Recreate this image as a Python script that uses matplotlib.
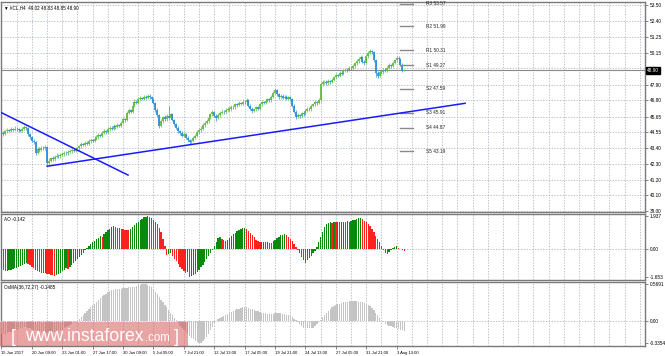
import numpy as np
import matplotlib
matplotlib.use('Agg')
import matplotlib.pyplot as plt
from matplotlib.patches import Rectangle

plt.rcParams['font.family'] = ['Liberation Sans', 'DejaVu Sans']

# #CL h4 bars (open of a bar = close of the bar before)
closes = [44.50, 44.45, 44.60, 44.70, 44.65, 44.75, 44.70, 44.80, 44.75, 44.70,
          44.65, 44.75, 44.90, 44.85, 44.40, 44.20, 43.95, 43.85, 43.05, 43.35,
          43.30, 43.45, 43.40, 43.50, 42.40, 42.55, 42.70, 42.65, 42.80, 42.90,
          42.85, 42.95, 43.00, 43.10, 43.05, 43.15, 43.20, 43.30, 43.25, 43.35,
          43.40, 43.55, 43.70, 43.65, 43.80, 43.75, 43.90, 44.00, 43.95, 44.10,
          44.20, 44.35, 44.30, 44.50, 44.60, 44.55, 44.75, 44.85, 44.80, 44.95,
          44.90, 45.05, 45.00, 45.20, 45.45, 45.40, 45.90, 46.10, 46.00, 46.40,
          46.70, 46.60, 46.85, 46.95, 46.90, 47.05, 46.95, 47.10, 47.00, 46.90,
          46.60, 46.10, 45.75, 45.00, 45.30, 45.60, 45.45, 45.70, 45.55, 45.80,
          45.40, 45.10, 44.85, 44.60, 44.50, 44.30, 44.40, 44.15, 44.00, 43.85,
          43.95, 44.15, 44.30, 44.55, 44.70, 44.80, 45.05, 45.20, 45.30, 45.55,
          45.80, 45.95, 45.70, 45.55, 45.75, 45.90, 46.00, 45.95, 46.10, 46.20,
          46.15, 46.35, 46.30, 46.50, 46.45, 46.60, 46.55, 46.70, 46.65, 46.80,
          46.40, 46.20, 46.05, 46.15, 46.30, 46.20, 46.50, 46.65, 46.60, 46.75,
          46.85, 46.80, 47.05, 47.30, 47.55, 47.20, 47.00, 47.10, 46.95, 47.05,
          46.90, 47.00, 46.85, 46.40, 46.00, 45.65, 45.75, 45.70, 45.90, 45.85,
          46.05, 46.20, 46.15, 46.40, 46.50, 46.65, 46.60, 46.80, 47.95, 48.05,
          48.10, 48.00, 48.15, 48.05, 48.25, 48.40, 48.55, 48.50, 48.70, 48.65,
          48.85, 48.95, 48.90, 49.10, 49.05, 49.20, 49.40, 49.55, 49.70, 49.85,
          49.50, 49.40, 49.90, 50.15, 50.25, 50.20, 49.60, 48.70, 48.50, 48.80,
          48.75, 48.95, 48.85, 49.10, 49.30, 49.20, 49.45, 49.60, 49.80, 49.70,
          49.30, 48.85, 48.90]
highs = [44.70, 44.62, 44.72, 44.85, 44.80, 44.88, 44.86, 44.95, 44.90, 44.85,
         44.80, 44.88, 45.05, 45.00, 44.92, 44.50, 44.30, 44.05, 43.95, 43.50,
         43.50, 43.58, 43.60, 43.65, 43.60, 42.70, 42.82, 42.85, 42.92, 43.05,
         43.00, 43.08, 43.15, 43.25, 43.22, 43.28, 43.35, 43.45, 43.40, 43.50,
         43.52, 43.68, 43.85, 43.82, 43.95, 43.90, 44.05, 44.15, 44.10, 44.25,
         44.35, 44.48, 44.45, 44.62, 44.75, 44.70, 44.90, 45.00, 44.95, 45.10,
         45.05, 45.18, 45.15, 45.35, 45.60, 45.55, 46.05, 46.25, 46.20, 46.55,
         46.85, 46.80, 47.00, 47.10, 47.05, 47.18, 47.15, 47.25, 47.20, 47.08,
         46.98, 46.70, 46.22, 45.85, 45.45, 45.72, 45.75, 45.85, 46.40, 45.92,
         45.90, 45.50, 45.22, 44.98, 44.72, 44.60, 44.55, 44.50, 44.25, 44.10,
         44.10, 44.28, 44.45, 44.68, 44.85, 44.95, 45.18, 45.35, 45.45, 45.70,
         45.92, 46.10, 46.02, 45.80, 45.88, 46.02, 46.15, 46.10, 46.25, 46.35,
         46.32, 46.48, 46.45, 46.62, 46.60, 46.72, 46.70, 46.85, 46.80, 46.95,
         46.90, 46.52, 46.30, 46.25, 46.42, 46.40, 46.62, 46.78, 46.75, 46.88,
         46.98, 46.95, 47.18, 47.45, 47.68, 47.62, 47.30, 47.22, 47.20, 47.15,
         47.15, 47.10, 47.08, 46.95, 46.50, 46.10, 45.88, 45.85, 46.00, 46.00,
         46.18, 46.32, 46.30, 46.52, 46.62, 46.78, 46.75, 46.92, 48.10, 48.20,
         48.22, 48.20, 48.28, 48.25, 48.38, 48.52, 48.68, 48.65, 48.82, 48.80,
         48.98, 49.08, 49.05, 49.22, 49.20, 49.32, 49.52, 49.68, 49.82, 49.98,
         49.92, 49.62, 50.02, 50.28, 50.38, 50.35, 50.28, 49.70, 48.85, 48.92,
         48.92, 49.08, 49.05, 49.22, 49.42, 49.38, 49.58, 49.72, 49.92, 49.88,
         49.78, 49.40, 49.02]
lows = [44.35, 44.30, 44.38, 44.52, 44.55, 44.58, 44.60, 44.62, 44.66, 44.58,
        44.55, 44.58, 44.70, 44.72, 44.30, 44.10, 43.85, 43.70, 42.95, 42.98,
        43.18, 43.20, 43.28, 43.32, 42.25, 42.30, 42.45, 42.52, 42.55, 42.70,
        42.72, 42.75, 42.85, 42.90, 42.95, 42.95, 43.05, 43.10, 43.15, 43.15,
        43.25, 43.30, 43.45, 43.55, 43.55, 43.62, 43.65, 43.80, 43.85, 43.85,
        44.00, 44.10, 44.20, 44.20, 44.40, 44.42, 44.45, 44.65, 44.68, 44.70,
        44.78, 44.82, 44.90, 44.92, 45.10, 45.28, 45.30, 45.80, 45.88, 45.90,
        46.30, 46.50, 46.50, 46.75, 46.80, 46.82, 46.85, 46.88, 46.90, 46.80,
        46.50, 46.00, 45.60, 44.85, 44.90, 45.20, 45.35, 45.35, 45.45, 45.45,
        45.30, 44.98, 44.75, 44.48, 44.38, 44.18, 44.22, 44.05, 43.88, 43.72,
        43.75, 43.85, 44.05, 44.20, 44.42, 44.58, 44.70, 44.92, 45.10, 45.20,
        45.45, 45.70, 45.60, 45.30, 45.45, 45.65, 45.80, 45.85, 45.85, 46.00,
        46.05, 46.05, 46.20, 46.20, 46.35, 46.38, 46.45, 46.48, 46.55, 46.55,
        46.30, 46.10, 45.92, 45.95, 46.05, 46.10, 46.12, 46.40, 46.50, 46.50,
        46.65, 46.70, 46.70, 46.95, 47.20, 47.10, 46.90, 46.90, 46.85, 46.85,
        46.80, 46.80, 46.75, 46.30, 45.88, 45.45, 45.55, 45.58, 45.62, 45.72,
        45.75, 45.95, 46.05, 46.05, 46.30, 46.40, 46.48, 46.50, 46.70, 47.80,
        47.92, 47.88, 47.90, 47.95, 47.98, 48.15, 48.30, 48.40, 48.42, 48.55,
        48.55, 48.75, 48.80, 48.82, 48.95, 48.95, 49.10, 49.30, 49.45, 49.60,
        49.40, 49.28, 49.32, 49.80, 50.05, 50.08, 49.50, 48.45, 48.35, 48.42,
        48.62, 48.65, 48.75, 48.78, 49.00, 49.10, 49.12, 49.35, 49.50, 49.58,
        49.20, 48.78, 48.83]
first_open = 44.55

# awesome oscillator
ao = [-1.20, -1.26, -1.32, -1.30, -1.26, -1.22, -1.18, -1.14, -1.10, -1.06,
      -1.00, -0.95, -0.88, -0.82, -0.88, -0.96, -1.05, -1.15, -1.26, -1.32,
      -1.35, -1.40, -1.44, -1.41, -1.45, -1.49, -1.52, -1.55, -1.57, -1.53,
      -1.46, -1.39, -1.31, -1.22, -1.14, -1.18, -1.07, -0.96, -0.85, -0.73,
      -0.60, -0.48, -0.35, -0.22, -0.09, 0.05, 0.16, 0.27, 0.38, 0.49,
      0.59, 0.66, 0.74, 0.70, 0.85, 0.98, 1.10, 1.20, 1.27, 1.32,
      1.29, 1.25, 1.22, 1.19, 1.16, 1.14, 1.12, 1.10, 1.17, 1.28,
      1.40, 1.51, 1.61, 1.70, 1.78, 1.85, 1.90, 1.93, 1.88, 1.82,
      1.72, 1.60, 1.45, 1.25, 0.98, 0.60, 0.15, -0.35, -0.30, -0.27,
      -0.42, -0.58, -0.74, -0.90, -1.05, -1.18, -1.30, -1.40, -1.36, -1.65,
      -1.60, -1.53, -1.45, -1.35, -1.22, -1.09, -0.94, -0.78, -0.61, -0.44,
      -0.27, -0.09, 0.15, 0.42, 0.62, 0.68, 0.60, 0.52, 0.46, 0.55,
      0.65, 0.75, 0.86, 0.96, 1.04, 1.12, 1.18, 1.22, 1.25, 1.18,
      1.08, 0.96, 0.82, 0.68, 0.55, 0.45, 0.39, 0.40, 0.41, 0.38,
      0.39, 0.36, 0.34, 0.44, 0.55, 0.65, 0.73, 0.80, 0.84, 0.86,
      0.80, 0.72, 0.60, 0.45, 0.30, 0.12, -0.05, -0.25, -0.45, -0.65,
      -0.82, -0.68, -0.55, -0.40, -0.26, -0.10, 0.12, 0.40, 0.72, 1.02,
      1.28, 1.45, 1.53, 1.57, 1.55, 1.57, 1.56, 1.58, 1.57, 1.59,
      1.60, 1.59, 1.62, 1.61, 1.64, 1.68, 1.72, 1.76, 1.80, 1.82,
      1.75, 1.66, 1.56, 1.47, 1.36, 1.20, 0.99, 0.78, 0.57, 0.38,
      0.18, -0.08, -0.22, -0.28, -0.20, -0.08, 0.03, 0.11, 0.15, 0.08,
      0.00, -0.08, -0.142]

# osma(36,72,27)
osma = [-0.20, -0.20, -0.19, -0.18, -0.17, -0.16, -0.15, -0.14, -0.13, -0.12,
        -0.11, -0.10, -0.09, -0.09, -0.10, -0.11, -0.12, -0.13, -0.14, -0.15,
        -0.16, -0.17, -0.17, -0.18, -0.18, -0.18, -0.17, -0.17, -0.16, -0.15,
        -0.14, -0.13, -0.12, -0.10, -0.09, -0.07, -0.06, -0.04, -0.02, -0.01,
        0.01, 0.03, 0.06, 0.09, 0.12, 0.15, 0.18, 0.21, 0.24, 0.27,
        0.30, 0.33, 0.36, 0.38, 0.40, 0.42, 0.44, 0.46, 0.47, 0.48,
        0.49, 0.49, 0.50, 0.50, 0.51, 0.51, 0.51, 0.52, 0.52, 0.53,
        0.53, 0.54, 0.55, 0.56, 0.565, 0.569, 0.565, 0.56, 0.54, 0.52,
        0.49, 0.45, 0.41, 0.37, 0.33, 0.29, 0.25, 0.21, 0.17, 0.13,
        0.09, 0.05, 0.01, -0.03, -0.07, -0.11, -0.14, -0.17, -0.20, -0.23,
        -0.26, -0.28, -0.30, -0.32, -0.335, -0.33, -0.31, -0.28, -0.24, -0.19,
        -0.14, -0.09, -0.04, 0.00, 0.03, 0.05, 0.07, 0.08, 0.10, 0.11,
        0.13, 0.14, 0.16, 0.17, 0.18, 0.19, 0.20, 0.21, 0.21, 0.21,
        0.20, 0.19, 0.18, 0.17, 0.16, 0.15, 0.14, 0.13, 0.12, 0.12,
        0.11, 0.11, 0.11, 0.11, 0.12, 0.12, 0.12, 0.12, 0.11, 0.11,
        0.10, 0.09, 0.08, 0.06, 0.04, 0.01, -0.02, -0.05, -0.08, -0.10,
        -0.11, -0.11, -0.11, -0.11, -0.10, -0.08, -0.05, -0.02, 0.02, 0.06,
        0.10, 0.13, 0.16, 0.19, 0.21, 0.23, 0.25, 0.26, 0.27, 0.28,
        0.29, 0.30, 0.30, 0.31, 0.31, 0.31, 0.31, 0.31, 0.30, 0.30,
        0.29, 0.28, 0.27, 0.25, 0.23, 0.20, 0.17, 0.13, 0.09, 0.05,
        0.01, -0.02, -0.04, -0.06, -0.07, -0.08, -0.09, -0.10, -0.11, -0.12,
        -0.13, -0.14, -0.1485]

time_labels = ['15 Jun 2017', '20 Jun 09:00', '23 Jun 01:00', '27 Jun 17:00',
               '30 Jun 09:00', '5 Jul 05:00', '7 Jul 21:00', '12 Jul 13:00',
               '17 Jul 05:00', '19 Jul 21:00', '24 Jul 13:00', '27 Jul 05:00',
               '31 Jul 21:00', '3 Aug 13:00']
price_ticks = [53.50, 52.40, 51.25, 50.15, 49.05, 47.90, 46.80, 45.65,
               44.55, 43.40, 42.30, 41.20, 40.10, 39.00]
last_price = 48.90

pivot_names = ['R3', 'R2', 'R1', 'S1', 'S2', 'S3', 'S4', 'S5']
pivot_levels = [53.57, 51.99, 50.31, 49.27, 47.59, 45.91, 44.87, 43.19]

# hand drawn trend lines (bar, price)
down_line_x = [-0.8, 66.6]
down_line_y = [45.97, 41.53]
up_line_x = [24, 244]
up_line_y = [42.15, 46.58]

W, H = 665, 356
fig = plt.figure(figsize=(W / 100, H / 100), dpi=100)
fig.patch.set_facecolor('white')

def pane(top, bottom):
    ax = fig.add_axes([1 / W, 1 - bottom / H, 644 / W, (bottom - top) / H])
    ax.set_xlim(-0.26, 338.7)
    for s in ax.spines.values():
        s.set_color('#7a7a7a')
        s.set_linewidth(1.0)
    ax.yaxis.tick_right()
    ax.tick_params(axis='y', length=2, width=0.5, pad=1.5, labelsize=3.4,
                   color='#555555')
    ax.tick_params(axis='x', bottom=False, labelbottom=False)
    # vertical dashed grid every 8 bars
    for gx in range(0, 340, 8):
        ax.axvline(gx, color='#a3adbb', lw=0.5, ls=(0, (2, 2)), zorder=0)
    return ax

ax_p = pane(2, 212)
ax_ao = pane(214, 280)
ax_os = pane(282, 346)

# price pane
ax_p.set_ylim(38.93, 53.71)
for t in price_ticks:
    ax_p.axhline(t, color='#a3adbb', lw=0.5, ls=(0, (2, 2)), zorder=0)
ax_p.set_yticks(price_ticks)
# the label under the last price box is hidden, as on the terminal
ax_p.set_yticklabels(['' if abs(t - last_price) < 0.3 else '%.2f' % t for t in price_ticks])

x = np.arange(len(closes))
c = np.array(closes)
o = np.array([first_open] + closes[:-1])
hi = np.array(highs)
lo = np.array(lows)
up = c >= o
green, blue = '#5cbf3c', '#2f8fd8'
ax_p.vlines(x[up], lo[up], hi[up], colors=green, lw=0.5, zorder=3)
ax_p.vlines(x[~up], lo[~up], hi[~up], colors=blue, lw=0.5, zorder=3)
ax_p.vlines(x[up], o[up], c[up], colors=green, lw=1.3, zorder=3)
ax_p.vlines(x[~up], c[~up], o[~up], colors=blue, lw=1.3, zorder=3)

ax_p.axhline(last_price, color='#8a8a8a', lw=0.8, zorder=2)
ax_p.text(1.003, last_price, '%.2f' % last_price, transform=ax_p.get_yaxis_transform(),
          fontsize=3.4, color='white', va='center', ha='left', zorder=10,
          bbox=dict(boxstyle='square,pad=0.25', fc='black', ec='black'), clip_on=False)

ax_p.plot(down_line_x, down_line_y, color='#1a1aff', lw=1.1, zorder=4)
ax_p.plot(up_line_x, up_line_y, color='#1a1aff', lw=1.1, zorder=4)

for name, lev in zip(pivot_names, pivot_levels):
    ax_p.plot([209.7, 216.6], [lev, lev], color='#8a8a8a', lw=1.0, zorder=3)
    ax_p.text(223.5, lev, '%s %.2f' % (name, lev), fontsize=3.4, color='#222222',
              va='center', ha='left')

ax_p.text(0.004, 0.985, '\u25bc #CL,H4  49.02 48.83 48.85 48.90', transform=ax_p.transAxes,
          fontsize=3.3, va='top', ha='left')

# ao pane, green when the bar is above the one before
xa = np.arange(len(ao))
ao_arr = np.array(ao)
ao_col = ['#ff2020'] + ['#0a8a0a' if ao_arr[i] > ao_arr[i - 1] else '#ff2020'
                        for i in range(1, len(ao))]
ax_ao.bar(xa, ao_arr, width=0.7, color=ao_col, linewidth=0, zorder=3)
ax_ao.set_ylim(-1.830, 2.055)
ax_ao.axhline(0, color='#a3adbb', lw=0.5, ls=(0, (2, 2)), zorder=0)
ax_ao.set_yticks([1.937, 0, -1.653])
ax_ao.set_yticklabels(['1.937', '0.00', '-1.653'])
ax_ao.text(0.004, 0.96, 'AO -0.142', transform=ax_ao.transAxes, fontsize=3.3,
           va='top', ha='left')

# osma pane
xo = np.arange(len(osma))
ax_os.bar(xo, osma, width=0.7, color='#c4c4c4', linewidth=0, zorder=3)
ax_os.set_ylim(-0.381, 0.600)
ax_os.axhline(0, color='#a3adbb', lw=0.5, ls=(0, (2, 2)), zorder=0)
ax_os.set_yticks([0.5691, 0, -0.3354])
ax_os.set_yticklabels(['0.5691', '0.00', '-0.3354'])
ax_os.text(0.004, 0.96, 'OsMA(36,72,27) -0.1485', transform=ax_os.transAxes, fontsize=3.3,
           va='top', ha='left')

ax_os.tick_params(axis='x', bottom=True, labelbottom=True, length=2, width=0.5,
                  pad=1.5, labelsize=3.0, color='#555555')
ax_os.set_xticks(np.arange(len(time_labels)) * 16)
ax_os.set_xticklabels(time_labels, ha='left')

# watermark banner
fig.add_artist(Rectangle((0, 1 - 346 / H), 188 / W, 24 / H, transform=fig.transFigure,
                         fc='#dc5a5a', alpha=0.55, ec='none', zorder=5))
fig.text(11 / W, 1 - 342 / H, '[', fontsize=13, color='white', zorder=6, va='baseline')
fig.text(25 / W, 1 - 341 / H, 'www.instaforex', fontsize=12.7, color='white', zorder=6,
         va='baseline')
fig.text(145 / W, 1 - 341 / H, '.com', fontsize=8.3, color='white', zorder=6, va='baseline')
fig.text(174 / W, 1 - 342 / H, ']', fontsize=13, color='white', zorder=6, va='baseline')

fig.savefig('out.png', dpi=100, facecolor='white')
